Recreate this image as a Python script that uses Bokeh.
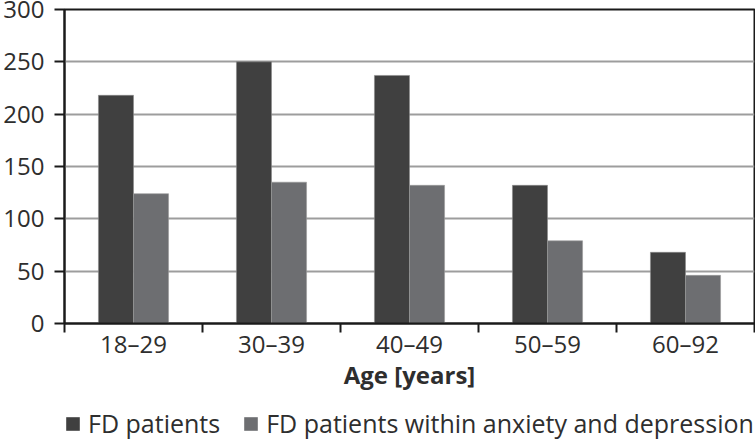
from bokeh.plotting import figure
from bokeh.layouts import column
from bokeh.models import ColumnDataSource, Range1d, FixedTicker, Legend, LegendItem
from bokeh.transform import dodge
from bokeh.embed import file_html
from bokeh.resources import INLINE

categories = ["18–29", "30–39", "40–49", "50–59", "60–92"]
fd_patients = [218, 250, 237, 132, 68]
fd_anx_dep = [124, 135, 132, 79, 46]
y_ticks = [0, 50, 100, 150, 200, 250, 300]
series_names = ["FD patients", "FD patients within anxiety and depression"]
series_colors = ["#404040", "#6d6e71"]

FONT = "Open Sans"
TXT = "#2e2e2e"

xpos = [i + 0.5 for i in range(len(categories))]
src = ColumnDataSource(dict(x=xpos, fd=fd_patients, ad=fd_anx_dep))

p = figure(frame_width=690, frame_height=314, output_backend="svg", toolbar_location=None,
           x_range=Range1d(0, len(categories)), y_range=Range1d(0, 300),
           min_border_top=9, min_border_right=2, min_border_left=63, min_border_bottom=85)

r1 = p.vbar(x=dodge("x", -0.127, range=p.x_range), top="fd", width=0.254, source=src,
            fill_color=series_colors[0], line_color="#8a8a8a", line_width=0.6)
r2 = p.vbar(x=dodge("x", 0.127, range=p.x_range), top="ad", width=0.254, source=src,
            fill_color=series_colors[1], line_color="#9a9a9a", line_width=0.6)

p.outline_line_color = "#1a1a1a"
p.outline_line_width = 2
p.background_fill_color = "white"
p.border_fill_color = "white"

p.xgrid.visible = False
p.ygrid.grid_line_color = "#9d9d9d"
p.ygrid.grid_line_width = 2
p.ygrid.ticker = FixedTicker(ticks=y_ticks)

xa = p.xaxis[0]
xa.ticker = FixedTicker(ticks=xpos, minor_ticks=list(range(len(categories) + 1)))
xa.major_label_overrides = {x: c for x, c in zip(xpos, categories)}
xa.major_tick_out = 0
xa.major_tick_in = 0
xa.minor_tick_out = 9
xa.minor_tick_in = 0
xa.minor_tick_line_width = 2
xa.minor_tick_line_color = "#1a1a1a"
xa.axis_line_width = 2
xa.axis_line_color = "#1a1a1a"
xa.major_label_text_font = FONT
xa.major_label_text_font_size = "24px"
xa.major_label_text_color = TXT
xa.major_label_standoff = -6
xa.axis_label = "Age [years]"
xa.axis_label_text_font = FONT
xa.axis_label_text_font_size = "24px"
xa.axis_label_text_font_style = "bold"
xa.axis_label_text_color = TXT
xa.axis_label_standoff = -5

ya = p.yaxis[0]
ya.ticker = FixedTicker(ticks=y_ticks)
ya.major_tick_out = 10
ya.major_tick_in = 0
ya.major_tick_line_width = 2
ya.major_tick_line_color = "#1a1a1a"
ya.minor_tick_out = 0
ya.minor_tick_in = 0
ya.axis_line_width = 2
ya.axis_line_color = "#1a1a1a"
ya.major_label_text_font = FONT
ya.major_label_text_font_size = "24px"
ya.major_label_text_color = TXT
ya.major_label_standoff = 10

# legend strip below the chart (same frame geometry as the chart)
lg = figure(frame_width=690, frame_height=32, output_backend="svg", toolbar_location=None,
            x_range=Range1d(0, 1), y_range=Range1d(0, 1),
            min_border_left=63, min_border_right=2, min_border_top=0, min_border_bottom=0,
            x_axis_location=None, y_axis_location=None)
lg.grid.visible = False
lg.outline_line_color = None
lg.border_fill_color = "white"
lg.background_fill_color = "white"
s1 = lg.vbar(x="x", top="fd", width=0.25, source=src,
             fill_color=series_colors[0], line_color=None, visible=False)
s2 = lg.vbar(x="x", top="ad", width=0.25, source=src,
             fill_color=series_colors[1], line_color=None, visible=False)
legend = Legend(items=[LegendItem(label=series_names[0], renderers=[s1]),
                       LegendItem(label=series_names[1], renderers=[s2])],
                orientation="horizontal", location=(0, 0),
                label_text_font=FONT, label_text_font_size="25px", label_text_color=TXT,
                glyph_width=17, glyph_height=17, label_standoff=7, spacing=22,
                padding=0, margin=0, border_line_color=None, background_fill_alpha=0,
                inactive_fill_alpha=0)
lg.add_layout(legend, "center")

layout = column(p, lg, spacing=0)
open("out.html", "w").write(file_html(layout, INLINE))
